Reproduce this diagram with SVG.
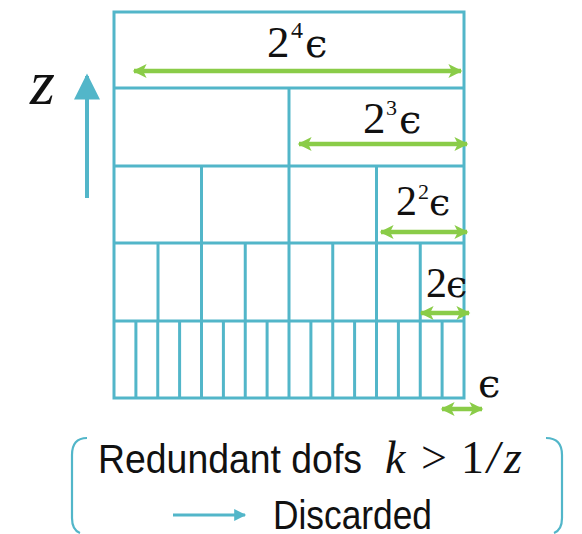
<svg xmlns="http://www.w3.org/2000/svg" width="582" height="534" viewBox="0 0 582 534">
<defs>
<style>
.g{stroke:#52b6c9;stroke-width:3;fill:none}
.ga{stroke:#8acc48;stroke-width:4.5;fill:none}
.m{font-family:"Liberation Serif","DejaVu Serif",serif;fill:#111}
.e{font-family:"DejaVu Serif",serif;fill:#111}
.s{font-family:"Liberation Sans","Open Sans",sans-serif;fill:#111}
.br{stroke:#52b6c9;stroke-width:2.2;fill:none}
</style>
<marker id="gh" viewBox="0 0 10 10" refX="9" refY="5" markerWidth="16" markerHeight="14" markerUnits="userSpaceOnUse" orient="auto-start-reverse">
<path d="M0,0 L10,5 L0,10 L2.5,5 Z" fill="#8acc48"/>
</marker>
<marker id="bh" viewBox="0 0 10 10" refX="9" refY="5" markerWidth="28" markerHeight="26" markerUnits="userSpaceOnUse" orient="auto">
<path d="M0,0 L10,5 L0,10 Z" fill="#52b6c9"/>
</marker>
<marker id="bh2" viewBox="0 0 10 10" refX="9" refY="5" markerWidth="18" markerHeight="12" markerUnits="userSpaceOnUse" orient="auto">
<path d="M0,0 L10,5 L0,10 Z" fill="#52b6c9"/>
</marker>
</defs>
<g id="grid">
<rect class="g" x="114" y="12" width="350" height="386"/>
<path class="g" d="M114 88H464M114 166H464M114 243H464M114 321H464"/>
<path class="g" d="M289 88V166"/>
<path class="g" d="M201.5 166V243M289 166V243M376.5 166V243"/>
<path class="g" d="M158 243V321M201.5 243V321M245.25 243V321M289 243V321M332.75 243V321M376.5 243V321M420.25 243V321"/>
<path class="g" d="M135.9 321V398M157.75 321V398M179.6 321V398M201.5 321V398M223.4 321V398M245.25 321V398M267.1 321V398M289 321V398M310.9 321V398M332.75 321V398M354.6 321V398M376.5 321V398M398.4 321V398M420.25 321V398M442.1 321V398"/>
</g>
<g id="connectors">
<line class="ga" x1="134" y1="71" x2="461" y2="71" marker-start="url(#gh)" marker-end="url(#gh)"/>
<line class="ga" x1="299" y1="144" x2="467" y2="144" marker-start="url(#gh)" marker-end="url(#gh)"/>
<line class="ga" x1="381" y1="232" x2="467" y2="232" marker-start="url(#gh)" marker-end="url(#gh)"/>
<line class="ga" x1="421" y1="313" x2="469" y2="313" marker-start="url(#gh)" marker-end="url(#gh)"/>
<line class="ga" x1="442" y1="409" x2="482" y2="409" marker-start="url(#gh)" marker-end="url(#gh)"/>
<line stroke="#52b6c9" stroke-width="4" x1="87" y1="198" x2="87" y2="76" marker-end="url(#bh)"/>
<line stroke="#52b6c9" stroke-width="3" x1="173" y1="515" x2="245" y2="515" marker-end="url(#bh2)"/>
</g>
<g id="labels">
<text class="m" x="267" y="57" font-size="45">2</text>
<text class="m" x="291" y="38" font-size="24">4</text>
<text class="e" x="305" y="57" font-size="40">ϵ</text>
<text class="m" x="363" y="133" font-size="45">2</text>
<text class="m" x="386" y="115" font-size="22">3</text>
<text class="e" x="399" y="133" font-size="40">ϵ</text>
<text class="m" x="396" y="215" font-size="42">2</text>
<text class="m" x="418" y="199" font-size="22">2</text>
<text class="e" x="429" y="215" font-size="38">ϵ</text>
<text class="m" x="426" y="297" font-size="42">2</text>
<text class="e" x="446" y="297" font-size="38">ϵ</text>
<text class="e" x="478" y="397" font-size="40">ϵ</text>
<text class="m" x="30" y="104" font-size="64" font-style="italic">z</text>
</g>
<g id="legend">
<path class="br" d="M87 438Q72 438 72 455V518Q72 530 80 533"/>
<path class="br" d="M546 438Q562 438 562 455V518Q562 530 554 533"/>
<text class="s" x="98" y="473" font-size="40" textLength="264" lengthAdjust="spacingAndGlyphs">Redundant dofs</text>
<text class="m" x="385" y="473" font-size="46" font-style="italic">k</text>
<text class="m" x="421" y="473" font-size="46">&gt;</text>
<text class="m" x="461" y="473" font-size="46">1</text>
<text class="m" x="487" y="473" font-size="46" font-style="italic">/</text>
<text class="m" x="504" y="473" font-size="46" font-style="italic">z</text>
<text class="s" x="273" y="529" font-size="40" textLength="159" lengthAdjust="spacingAndGlyphs">Discarded</text>
</g>
</svg>
